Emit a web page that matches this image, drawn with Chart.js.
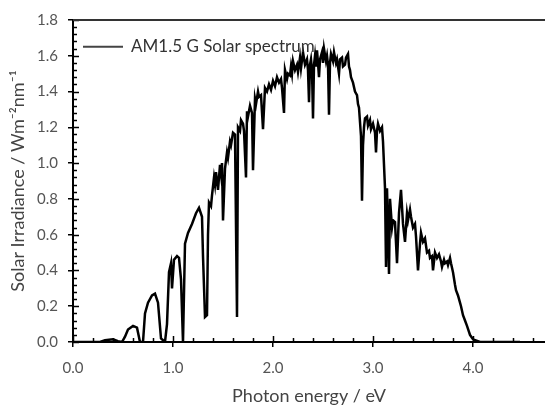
<!DOCTYPE html>
<html>
<head>
<meta charset="utf-8">
<script src="https://cdn.jsdelivr.net/npm/chart.js@4.4.0/dist/chart.umd.min.js"></script>
<style>
  body { margin: 0; background: #fff; }
  canvas { display: block; }
</style>
</head>
<body>
<canvas id="spectrum" width="545" height="405"></canvas>
<script>
// Photon energy (eV) and irradiance (W m-2 nm-1)
const energy = [
  0.00, 0.27, 0.32, 0.40, 0.45, 0.49, 0.52, 0.55, 0.60, 0.64,
  0.67, 0.70, 0.72, 0.75, 0.79, 0.82, 0.85, 0.88, 0.92, 0.94,
  0.96, 0.98, 0.99, 1.01, 1.04, 1.06, 1.08, 1.10, 1.12, 1.15,
  1.19, 1.23, 1.26, 1.29, 1.30, 1.32, 1.34, 1.35, 1.36, 1.38,
  1.39, 1.41, 1.42, 1.43, 1.44, 1.45, 1.47, 1.48, 1.49, 1.50,
  1.52, 1.54, 1.55, 1.57, 1.58, 1.60, 1.62, 1.64, 1.65, 1.67,
  1.68, 1.70, 1.71, 1.73, 1.74, 1.75, 1.77, 1.79, 1.80, 1.82,
  1.83, 1.85, 1.86, 1.88, 1.90, 1.92, 1.94, 1.96, 1.98, 2.00,
  2.02, 2.04, 2.06, 2.08, 2.09, 2.11, 2.12, 2.14, 2.15, 2.17,
  2.18, 2.19, 2.20, 2.22, 2.24, 2.25, 2.27, 2.28, 2.30, 2.32,
  2.34, 2.35, 2.36, 2.37, 2.38, 2.39, 2.40, 2.41, 2.42, 2.43,
  2.44, 2.45, 2.46, 2.47, 2.49, 2.50, 2.51, 2.53, 2.54, 2.55,
  2.56, 2.57, 2.58, 2.60, 2.61, 2.63, 2.64, 2.66, 2.67, 2.69,
  2.70, 2.72, 2.73, 2.75, 2.76, 2.77, 2.78, 2.80, 2.82, 2.84,
  2.85, 2.86, 2.88, 2.89, 2.90, 2.91, 2.92, 2.94, 2.95, 2.97,
  2.98, 3.00, 3.02, 3.03, 3.04, 3.05, 3.07, 3.09, 3.10, 3.12,
  3.13, 3.14, 3.16, 3.17, 3.19, 3.20, 3.22, 3.24, 3.26, 3.28,
  3.30, 3.32, 3.34, 3.35, 3.37, 3.38, 3.40, 3.42, 3.43, 3.45,
  3.47, 3.48, 3.50, 3.52, 3.54, 3.56, 3.57, 3.59, 3.60, 3.62,
  3.64, 3.66, 3.68, 3.69, 3.71, 3.72, 3.74, 3.75, 3.77, 3.78,
  3.80, 3.82, 3.83, 3.85, 3.87, 3.88, 3.90, 3.92, 3.94, 3.97,
  4.00, 4.07, 4.47
]
const irradiance = [
  0.00, 0.00, 0.01, 0.015, 0.005, 0.00, 0.03, 0.07, 0.09, 0.08,
  0.00, 0.00, 0.16, 0.22, 0.26, 0.27, 0.22, 0.02, 0.00, 0.10,
  0.39, 0.44, 0.30, 0.46, 0.48, 0.47, 0.35, 0.00, 0.55, 0.61,
  0.66, 0.72, 0.75, 0.70, 0.48, 0.14, 0.15, 0.60, 0.78, 0.76,
  0.82, 0.92, 0.88, 0.95, 0.90, 0.85, 0.99, 0.94, 1.00, 0.68,
  0.97, 1.06, 1.03, 1.12, 1.10, 1.17, 1.16, 0.14, 1.20, 1.18,
  1.24, 1.22, 1.18, 0.92, 1.29, 1.26, 1.32, 1.28, 0.96, 1.36,
  1.33, 1.40, 1.37, 1.38, 1.19, 1.42, 1.40, 1.44, 1.41, 1.46,
  1.43, 1.48, 1.45, 1.47, 1.42, 1.28, 1.52, 1.47, 1.50, 1.49,
  1.54, 1.50, 1.57, 1.52, 1.55, 1.51, 1.59, 1.53, 1.62, 1.55,
  1.58, 1.52, 1.34, 1.55, 1.58, 1.52, 1.25, 1.55, 1.60, 1.54,
  1.63, 1.56, 1.48, 1.58, 1.62, 1.56, 1.64, 1.57, 1.60, 1.55,
  1.27, 1.56, 1.61, 1.57, 1.62, 1.56, 1.58, 1.50, 1.58, 1.59,
  1.54, 1.55, 1.59, 1.61, 1.54, 1.52, 1.48, 1.45, 1.40, 1.38,
  1.33, 1.31, 1.15, 0.79, 1.10, 1.20, 1.25, 1.26, 1.21, 1.24,
  1.19, 1.22, 1.17, 1.06, 1.18, 1.22, 1.18, 1.20, 1.12, 0.86,
  0.42, 0.86, 0.38, 0.80, 0.64, 0.68, 0.67, 0.44, 0.72, 0.85,
  0.66, 0.56, 0.72, 0.68, 0.74, 0.70, 0.64, 0.66, 0.59, 0.40,
  0.55, 0.61, 0.56, 0.58, 0.50, 0.51, 0.47, 0.48, 0.40, 0.50,
  0.47, 0.49, 0.45, 0.42, 0.46, 0.44, 0.45, 0.43, 0.47, 0.44,
  0.39, 0.32, 0.29, 0.26, 0.22, 0.20, 0.15, 0.12, 0.09, 0.04,
  0.015, 0.00, 0.00
]
const xTickLabels = ['0.0', '1.0', '2.0', '3.0', '4.0']
const yTickLabels = ['0.0', '0.2', '0.4', '0.6', '0.8', '1.0', '1.2', '1.4', '1.6', '1.8']

const fontFamily = 'Lato, "Open Sans", sans-serif'

// inner tick marks, top frame line and the inset legend
const frameAndTicks = {
  id: 'frameAndTicks',
  afterDatasetsDraw(chart) {
    const ctx = chart.ctx
    const area = chart.chartArea
    const xs = chart.scales.x
    const ys = chart.scales.y
    ctx.save()
    ctx.strokeStyle = '#000'
    ctx.lineWidth = 1.5
    // x ticks every 0.2 eV
    for (let i = 0; i * 0.2 <= xs.max + 1e-9; i++) {
      const px = Math.round(xs.getPixelForValue(i * 0.2)) + 0.5
      const len = (i % 5 === 0) ? 6 : 4
      ctx.beginPath()
      ctx.moveTo(px, area.bottom)
      ctx.lineTo(px, area.bottom - len)
      ctx.stroke()
    }
    // y ticks every 0.04
    for (let i = 0; i <= 45; i++) {
      const py = Math.round(ys.getPixelForValue(i * 0.04)) + 0.5
      const len = (i % 5 === 0) ? 6 : 4
      ctx.beginPath()
      ctx.moveTo(area.left, py)
      ctx.lineTo(area.left + len, py)
      ctx.stroke()
    }
    // top frame
    ctx.strokeStyle = '#333'
    ctx.lineWidth = 2
    ctx.beginPath()
    ctx.moveTo(area.left, area.top)
    ctx.lineTo(area.right, area.top)
    ctx.stroke()
    // legend
    const ly = ys.getPixelForValue(1.65)
    ctx.strokeStyle = '#444'
    ctx.lineWidth = 2
    ctx.beginPath()
    ctx.moveTo(area.left + 10, ly)
    ctx.lineTo(area.left + 50, ly)
    ctx.stroke()
    ctx.fillStyle = '#333'
    ctx.font = '17px ' + fontFamily
    ctx.textBaseline = 'middle'
    ctx.fillText(chart.data.datasets[0].label, area.left + 58, ly)
    ctx.restore()
  }
}

const points = energy.map((e, i) => ({ x: e, y: irradiance[i] }))

new Chart(document.getElementById('spectrum'), {
  type: 'line',
  data: {
    datasets: [{
      label: 'AM1.5 G Solar spectrum',
      data: points,
      borderColor: '#000',
      borderWidth: 2.5,
      pointRadius: 0,
      tension: 0,
      fill: false
    }]
  },
  options: {
    responsive: false,
    animation: false,
    devicePixelRatio: 1,
    layout: { padding: { top: 20, right: 0, left: 0, bottom: 0 } },
    plugins: {
      legend: { display: false },
      tooltip: { enabled: false }
    },
    scales: {
      x: {
        type: 'linear',
        min: 0,
        max: 4.72,
        afterFit(scale) { scale.height = 63 },
        border: { display: true, color: '#000', width: 2 },
        grid: { drawOnChartArea: false, color: '#000', tickLength: 5, lineWidth: 1.5 },
        ticks: {
          stepSize: 1,
          includeBounds: false,
          padding: 12,
          color: '#555',
          font: { family: fontFamily, size: 15 },
          callback: (v) => xTickLabels[Math.round(v)] ?? ''
        },
        title: {
          display: true,
          text: 'Photon energy / eV',
          color: '#444',
          font: { family: fontFamily, size: 18, lineHeight: 1 },
          padding: { top: 0, bottom: 0 }
        }
      },
      y: {
        min: 0,
        max: 1.8,
        afterFit(scale) { scale.width = 73 },
        border: { display: true, color: '#000', width: 2 },
        grid: { drawOnChartArea: false, color: '#000', tickLength: 5, lineWidth: 1.5 },
        ticks: {
          stepSize: 0.2,
          padding: 10,
          color: '#555',
          font: { family: fontFamily, size: 15 },
          callback: (v) => yTickLabels[Math.round(v / 0.2)] ?? ''
        },
        title: {
          display: true,
          text: 'Solar Irradiance / Wm\u207B\u00B2nm\u207B\u00B9',
          color: '#444',
          font: { family: fontFamily, size: 18, lineHeight: 1.2 },
          padding: { top: 7, bottom: 0 }
        }
      }
    }
  },
  plugins: [frameAndTicks]
})
</script>
</body>
</html>
